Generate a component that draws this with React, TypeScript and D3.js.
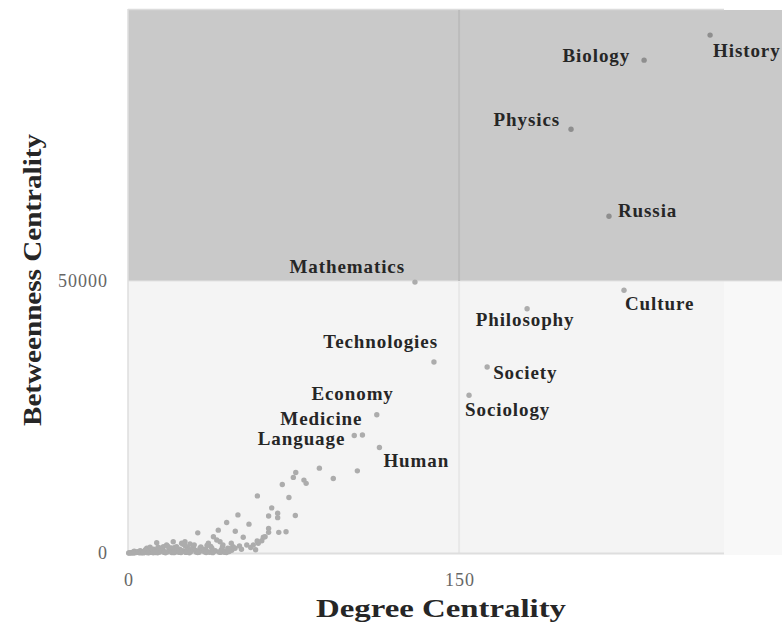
import React from "react";
import * as d3 from "d3";

// ---------- data ----------
const namedTopics = ["History", "Biology", "Physics", "Russia", "Mathematics", "Culture", "Philosophy", "Technologies", "Society", "Sociology", "Economy", "Medicine", "Language", "Human"];
const namedDegree = [263.7, 233.8, 200.7, 217.9, 130.0, 224.7, 180.8, 138.6, 162.7, 154.5, 112.7, 106.2, 102.5, 113.9];
const namedBetweenness = [95200, 90600, 77900, 61900, 49800, 48300, 44900, 35100, 34200, 29000, 25400, 21700, 21600, 19400];

const otherDegree = [
  86.7, 93.0, 103.9, 76.0, 74.9, 79.7, 80.7, 69.9, 58.6, 72.9, 65.1, 63.7, 67.8, 67.8, 75.8, 49.8, 54.8, 44.7, 40.9, 31.6,
  63.7, 63.7, 68.3, 71.6, 48.6, 61.3, 52.2, 47.6, 53.8, 56.8, 59.0, 60.6, 62.1, 40.2, 38.7, 36.4, 41.7, 32.6, 29.6, 24.3,
  22.0, 25.8, 17.5, 13.0, 16.0, 8.5, 10.0, 20.5, 28.1, 34.1, 48.5, 50.5, 45.2, 43.0, 37.5, 35.2, 33.0, 30.5, 27.2, 26.0,
  23.4, 21.2, 19.0, 18.1, 15.2, 14.0, 12.1, 11.0, 9.2, 7.4, 6.1, 5.0, 4.0, 3.1, 2.2, 1.5, 1.0, 0.6, 2.8, 3.6,
  4.6, 5.5, 6.8, 7.9, 9.8, 11.6, 12.8, 14.6, 16.7, 18.8, 20.0, 22.6, 24.8, 27.0, 29.0, 31.0, 33.6, 36.0, 38.0, 39.5,
  42.3, 44.0, 46.2, 47.0, 51.4, 55.6, 57.8, 58.5, 30.0, 26.6, 19.6, 15.8, 13.6, 10.8, 8.0, 25.0, 35.8, 42.8, 46.8, 21.8,
  1.8, 3.3, 4.8, 6.4, 8.8, 10.4, 12.4, 14.2, 16.2, 17.8, 19.8, 21.4, 23.0, 24.4, 26.2, 28.4, 30.8, 32.2, 34.6, 37.0,
  39.0, 41.2, 43.6, 45.8, 2.5, 5.8, 9.4, 13.4, 17.0, 20.8, 24.0, 27.8, 31.6, 35.4, 38.4, 41.8, 44.6, 0.3, 7.0, 11.4
];
const otherBetweenness = [
  15600, 13700, 15100, 14800, 13900, 13400, 12800, 12600, 10500, 10200, 8300, 6800, 7300, 6500, 6900, 7000, 5300, 5600, 4200, 3700,
  4500, 3800, 3800, 3900, 4000, 2900, 2900, 1150, 1470, 1470, 1780, 2260, 3000, 2390, 3000, 1780, 2080, 860, 1150, 1780,
  1150, 2080, 1470, 1900, 1150, 860, 1050, 2080, 1650, 680, 860, 1300, 900, 1500, 1200, 600, 1100, 500, 900, 1300,
  700, 1000, 600, 1200, 800, 300, 500, 200, 400, 150, 300, 100, 200, 80, 150, 50, 30, 20, 350, 120,
  250, 420, 200, 600, 150, 700, 300, 900, 250, 500, 800, 300, 400, 200, 700, 350, 500, 250, 900, 400,
  600, 300, 800, 500, 700, 1000, 600, 2200, 1500, 450, 950, 380, 1050, 650, 480, 1600, 1400, 1100, 1800, 550,
  40, 60, 90, 110, 60, 130, 90, 160, 120, 200, 90, 180, 140, 260, 110, 220, 170, 120, 240, 150,
  300, 200, 140, 260, 10, 20, 30, 50, 40, 60, 70, 50, 90, 80, 60, 110, 70, 5, 15, 25
];

const xTicks = [0, 150];
const yTicks = [0, 50000];

// label placement (anchor, dx, dy relative to the point)
const labelPlacement: Record<string, [string, number, number]> = {
  History: ["start", 3, 15],
  Biology: ["end", -14, -5],
  Physics: ["end", -11, -10],
  Russia: ["start", 9, -6],
  Mathematics: ["end", -10, -16],
  Culture: ["start", 1, 13],
  Philosophy: ["middle", -2, 11],
  Technologies: ["end", 4, -21],
  Society: ["start", 6, 5],
  Sociology: ["start", -4, 14],
  Economy: ["end", 17, -21],
  Medicine: ["end", 0, -17],
  Language: ["end", -9, 3],
  Human: ["start", 4, 13],
};

export default function App() {
  const W = 782, H = 626;
  const x = d3.scaleLinear().domain([0, 270]).range([128, 724]);
  const y = d3.scaleLinear().domain([0, 100000]).range([553, 9]);
  const serif = "'Liberation Serif', 'Times New Roman', serif";
  const mid = y(50000);

  const others = otherDegree.map((d, i) => ({ d, b: otherBetweenness[i] }));
  const named = namedTopics.map((n, i) => ({ n, d: namedDegree[i], b: namedBetweenness[i] }));
  const dotFill = (b: number) => (b >= 50000 ? "#8e8e8e" : "#acacac");

  return (
    <svg width={W} height={H} style={{ position: "absolute", left: 0, top: 0, background: "#fff" }}>
      {/* quadrant backgrounds */}
      <rect x={x(0)} y={y(100000) + 1} width={W - x(0)} height={mid - y(100000) - 1} fill="#c9c9c9" />
      <rect x={x(0)} y={mid} width={x(270) - x(0)} height={y(0) - mid} fill="#f4f4f4" />
      <rect x={x(270)} y={mid} width={W - x(270)} height={y(0) - mid + 2} fill="#f8f8f8" />
      <line x1={x(0)} x2={x(270)} y1={y(100000) + 0.5} y2={y(100000) + 0.5} stroke="#dcdcdc" strokeWidth={1.5} />
      <line x1={x(0)} x2={W} y1={mid} y2={mid} stroke="#e2e2e2" strokeWidth={1} />
      {/* vertical divider at 150 */}
      <line x1={x(150)} x2={x(150)} y1={y(100000) + 1} y2={mid} stroke="#bcbcbc" strokeWidth={2} />
      <line x1={x(150)} x2={x(150)} y1={mid} y2={y(0)} stroke="#e8e8e8" strokeWidth={2} />
      {/* axes lines */}
      <line x1={x(0)} x2={x(0)} y1={y(100000)} y2={y(0)} stroke="#dedede" strokeWidth={1.5} />
      <line x1={x(0)} x2={x(270)} y1={y(0) + 0.5} y2={y(0) + 0.5} stroke="#dedede" strokeWidth={2} />

      {/* points */}
      {others.map((p, i) => (
        <circle key={"o" + i} cx={x(p.d)} cy={y(p.b)} r={2.7} fill={dotFill(p.b)} />
      ))}
      {named.map((p) => (
        <circle key={p.n} cx={x(p.d)} cy={y(p.b)} r={2.7} fill={dotFill(p.b)} />
      ))}

      {/* labels */}
      {named.map((p) => {
        const [anchor, dx, dy] = labelPlacement[p.n];
        return (
          <text
            key={"l" + p.n}
            x={x(p.d) + dx}
            y={y(p.b) + dy}
            dy="0.35em"
            textAnchor={anchor}
            fontFamily={serif}
            fontWeight="bold"
            fontSize={19}
            letterSpacing={0.9}
            fill="#262626"
          >
            {p.n}
          </text>
        );
      })}

      {/* tick labels */}
      {yTicks.map((t) => (
        <text key={"yt" + t} x={108} y={y(t)} dy="0.35em" textAnchor="end" fontFamily={serif} fontSize={18} letterSpacing={1} fill="#666">
          {t}
        </text>
      ))}
      {xTicks.map((t) => (
        <text key={"xt" + t} x={x(t) + 1} y={580} dy="0.35em" textAnchor="middle" fontFamily={serif} fontSize={18} letterSpacing={1} fill="#666">
          {t}
        </text>
      ))}

      {/* axis titles */}
      <text x={441} y={617} textAnchor="middle" fontFamily={serif} fontWeight="bold" fontSize={25} fill="#262626" textLength={250} lengthAdjust="spacingAndGlyphs">
        Degree Centrality
      </text>
      <text transform="translate(41,280) rotate(-90)" textAnchor="middle" fontFamily={serif} fontWeight="bold" fontSize={25} fill="#262626" textLength={292} lengthAdjust="spacingAndGlyphs">
        Betweenness Centrality
      </text>
    </svg>
  );
}
